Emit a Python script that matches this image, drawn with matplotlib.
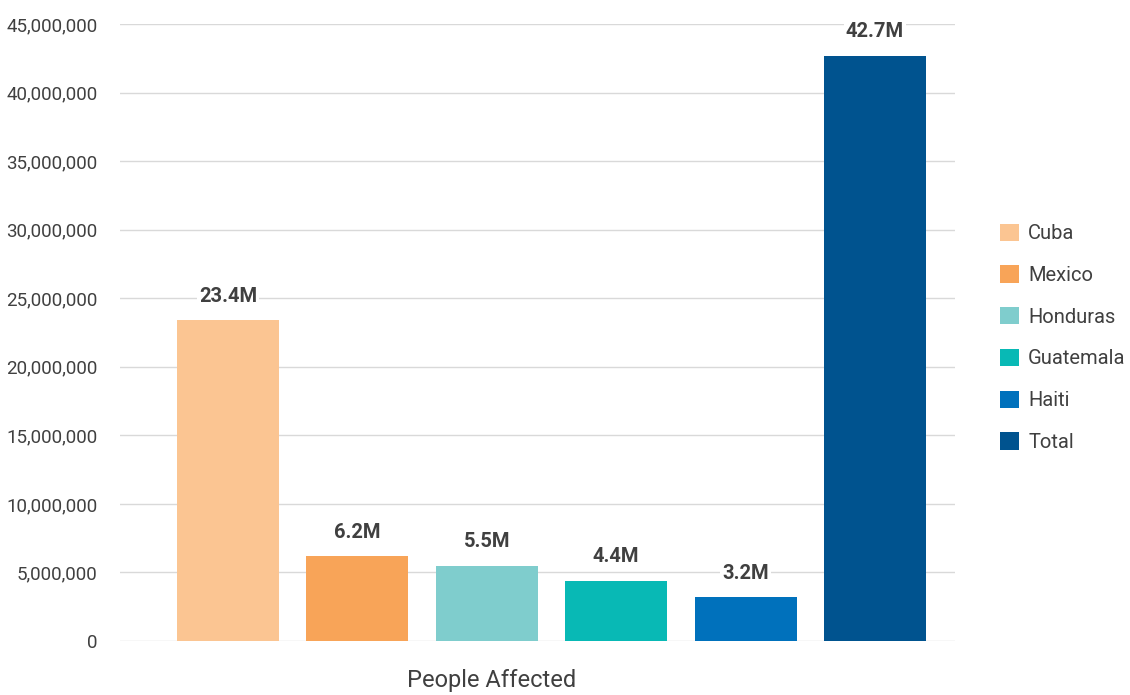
import matplotlib.pyplot as plt
from matplotlib.ticker import FuncFormatter

countries = ["Cuba", "Mexico", "Honduras", "Guatemala", "Haiti", "Total"]
people_affected = [23.4e6, 6.2e6, 5.5e6, 4.4e6, 3.2e6, 42.7e6]
value_labels = ["23.4M", "6.2M", "5.5M", "4.4M", "3.2M", "42.7M"]
colors = ["#FBC592", "#F8A458", "#7FCDCD", "#08B9B5", "#0071BC", "#00538F"]

plt.rcParams["font.family"] = ["Roboto", "DejaVu Sans"]
text_color = "#404040"


def main():
    fig = plt.figure(figsize=(11.3, 6.95), dpi=100)
    ax = fig.add_axes((0.1062, 0.0777, 0.7389, 0.8878))

    handles = []
    for i, (name, val, lab, col) in enumerate(zip(countries, people_affected, value_labels, colors)):
        bar = ax.bar(i, val, width=0.788, color=col, label=name, zorder=2)
        handles.append(bar)
        ax.text(i, val + 1.05e6, lab, ha="center", va="bottom", fontsize=14.5,
                fontweight="bold", color=text_color, zorder=3,
                bbox=dict(facecolor="white", edgecolor="none", pad=1.5))

    ax.set_xlim(-0.834, 5.618)
    ax.set_ylim(0, 45e6)
    ax.set_yticks(range(0, 45000001, 5000000))
    ax.yaxis.set_major_formatter(FuncFormatter(lambda v, p: f"{int(v):,}"))
    ax.set_xticks([])
    ax.grid(axis="y", color="#D9D9D9", linewidth=1, zorder=0)
    for s in ax.spines.values():
        s.set_visible(False)
    ax.tick_params(axis="y", length=0, pad=16, labelsize=13.5, labelcolor=text_color)

    ax.set_xlabel("People Affected", fontsize=17, color=text_color)
    ax.xaxis.set_label_coords(0.4455, -0.045)
    ax.xaxis.label.set_verticalalignment("top")

    fig.legend(handles=handles, labels=countries, loc="center left",
               bbox_to_anchor=(0.885, 0.514), frameon=False, fontsize=14.5,
               labelcolor=text_color, handlelength=0.95, handleheight=0.95,
               handletextpad=0.45, labelspacing=1.1, borderaxespad=0,
               borderpad=0)

    fig.savefig("out.png", dpi=100)


if __name__ == "__main__":
    main()
